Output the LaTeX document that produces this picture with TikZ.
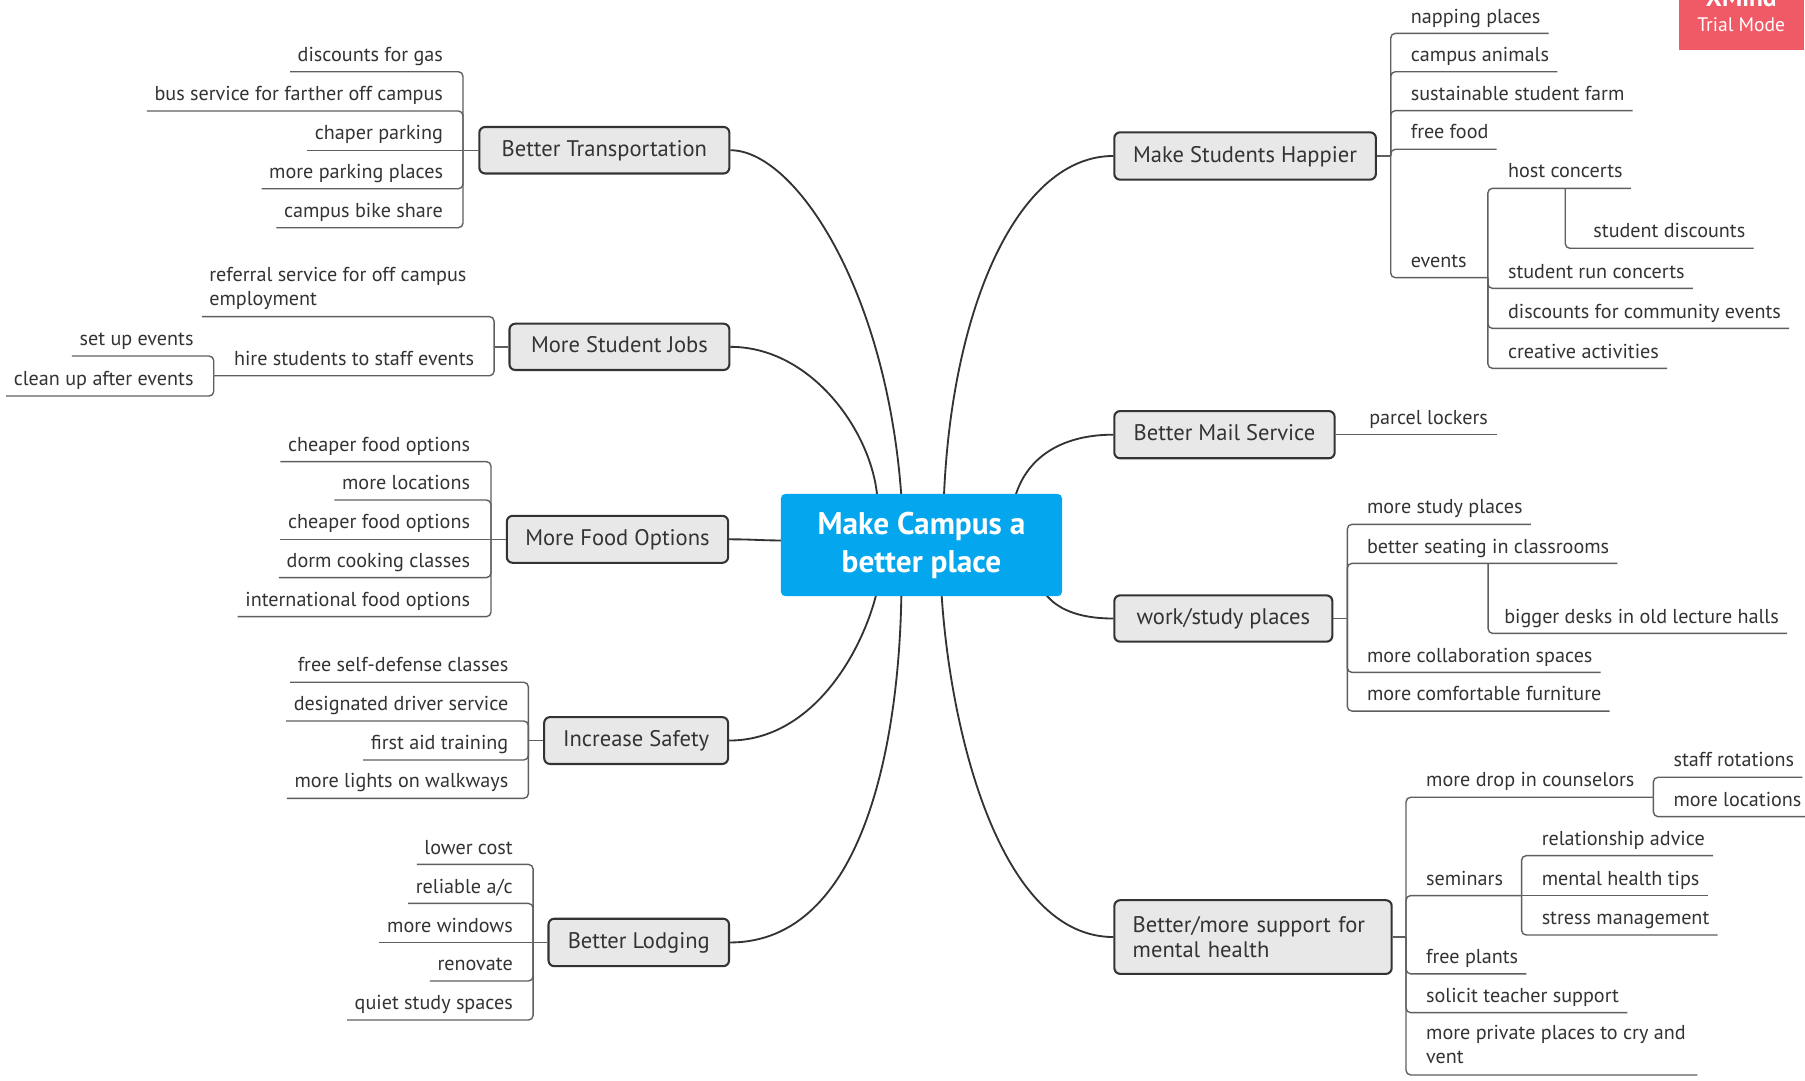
\documentclass[tikz,border=0pt]{standalone}
\usepackage{fontspec}
\setmainfont{PT Sans}
\usetikzlibrary{calc,backgrounds}
\definecolor{txt}{RGB}{51,51,51}
\definecolor{subline}{RGB}{95,95,95}
\definecolor{mline}{RGB}{51,51,51}
\definecolor{topicfill}{RGB}{232,232,232}
\definecolor{tborder}{RGB}{51,51,51}
\definecolor{cblue}{RGB}{4,166,238}
\definecolor{badge}{RGB}{240,90,102}
\newcommand\itemfont{\fontsize{17.5}{20.3}\selectfont}
\newcommand\topicfont{\fontsize{19.6}{22}\selectfont}
\newcommand\centerfont{\fontsize{27.2}{33}\selectfont\bfseries}
\newcommand\badgebig{\fontsize{22}{24}\selectfont\bfseries}
\newcommand\badgesmall{\fontsize{17}{18}\selectfont}
\newcommand\Lchild[5]{%
  \node[litem] (#1) at (#3,#4-9) {#5};
  \draw[sub] (#2) |- ($(#1.base west)+(-6.5,9)$);}
\newcommand\Rchild[5]{%
  \node[ritem] (#1) at (#3,#4-9) {#5};
  \draw[sub] (#2) |- ($(#1.base east)+(7,9)$);}
\begin{document}
\begin{tikzpicture}[x=1pt,y=-1pt,
  topic/.style={draw=tborder, line width=1.8pt, fill=topicfill, rounded corners=5pt, inner sep=0pt, text=txt, font=\topicfont},
  tline/.style={text height=14pt, text depth=3.5pt},
  centerbox/.style={fill=cblue, rounded corners=4pt, inner sep=0pt, text=white, font=\centerfont, align=center, minimum width=244.3pt, minimum height=88.9pt},
  litem/.style={anchor=base east, inner sep=0pt, text=txt, font=\itemfont},
  ritem/.style={anchor=base west, inner sep=0pt, text=txt, font=\itemfont},
  sub/.style={draw=subline, line width=1.2pt, rounded corners=4pt},
  mainline/.style={draw=mline, line width=1.6pt},
]
\useasboundingbox (0,0) rectangle (1568,939);
% central topic and main topics
\node[centerbox] (C) at (800.5,473.5) {Make Campus a\\better place};
\node[topic, tline, minimum width=217.2pt, minimum height=40.4pt] (T1) at (525,130.5) {Better Transportation};
\node[topic, tline, minimum width=191pt, minimum height=40.2pt] (T2) at (538.1,301.3) {More Student Jobs};
\node[topic, tline, minimum width=192.2pt, minimum height=40.8pt] (T3) at (536.4,468.5) {More Food Options};
\node[topic, tline, minimum width=159.7pt, minimum height=40.7pt] (T4) at (552.6,643.3) {Increase Safety};
\node[topic, tline, minimum width=156.8pt, minimum height=41.2pt] (T5) at (554.9,818.7) {Better Lodging};
\node[topic, tline, minimum width=227.2pt, minimum height=41.1pt] (R1) at (1081.6,135.5) {Make Students Happier};
\node[topic, tline, minimum width=191.4pt, minimum height=41pt] (R2) at (1063.7,377.6) {Better Mail Service};
\node[topic, tline, minimum width=189.4pt, minimum height=40.2pt] (R3) at (1062.7,537.3) {work/study places};
\node[topic, minimum width=240.9pt, minimum height=64pt, text width=209pt, align=left] (R4) at (1088.5,814) {Better/more support for\\mental health};

% Better Transportation
\coordinate (j1) at (402.2,130.5);
\Lchild{a1}{j1}{385}{62.3}{discounts for gas}
\Lchild{a2}{j1}{385}{96.4}{bus service for farther off campus}
\node[litem] (a3) at (385,130.5-9) {chaper parking};
\draw[sub] (T1.west) -- ($(a3.base west)+(-6.5,9)$);
\Lchild{a4}{j1}{385}{164}{more parking places}
\Lchild{a5}{j1}{385}{197.8}{campus bike share}

% More Student Jobs
\coordinate (j2) at (429.2,301.3);
\draw[sub] (T2.west) -- (j2);
\node[litem, anchor=base west] (b1) at (181.6,265) {\begin{tabular}[b]{@{}l@{}}referral service for off campus\\employment\end{tabular}};
\draw[sub] (j2) |- ($(b1.base west)+(-6.3,10)$);
\node[litem] (b2) at (412,326.4-9) {hire students to staff events};
\coordinate (hs) at (185.7,326.4);
\draw[sub] (j2) |- (hs);
\Lchild{b3}{hs}{168.3}{309.3}{set up events}
\Lchild{b4}{hs}{168.3}{344}{clean up after events}

% More Food Options
\coordinate (j3) at (426.5,468.5);
\Lchild{c1}{j3}{408.5}{401}{cheaper food options}
\Lchild{c2}{j3}{408.5}{434.3}{more locations}
\node[litem] (c3) at (408.5,468.5-9) {cheaper food options};
\draw[sub] (T3.west) -- ($(c3.base west)+(-6.5,9)$);
\Lchild{c4}{j3}{408.5}{501.8}{dorm cooking classes}
\Lchild{c5}{j3}{408.5}{535.7}{international food options}

% Increase Safety
\coordinate (j4) at (459,643.3);
\draw[sub] (T4.west) -- (j4);
\Lchild{s1}{j4}{441.7}{592.7}{free self-defense classes}
\Lchild{s2}{j4}{441.7}{626.3}{designated driver service}
\Lchild{s3}{j4}{441.7}{660.2}{first aid training}
\Lchild{s4}{j4}{441.7}{693.5}{more lights on walkways}

% Better Lodging
\coordinate (j5) at (463.1,818.7);
\Lchild{l1}{j5}{445.6}{750.9}{lower cost}
\Lchild{l2}{j5}{445.6}{784.8}{reliable a/c}
\node[litem] (l3) at (445.6,818.7-9) {more windows};
\draw[sub] (T5.west) -- ($(l3.base west)+(-6.5,9)$);
\Lchild{l4}{j5}{445.6}{852.2}{renovate}
\Lchild{l5}{j5}{445.6}{886.1}{quiet study spaces}

% Make Students Happier
\coordinate (k1) at (1208.1,135.5);
\draw[sub] (R1.east) -- (k1);
\Rchild{r1}{k1}{1225.4}{29}{napping places}
\Rchild{r2}{k1}{1225.4}{62.3}{campus animals}
\Rchild{r3}{k1}{1225.4}{96.1}{sustainable student farm}
\Rchild{r4}{k1}{1225.4}{129.7}{free food}
\node[ritem] (r5) at (1225.4,241.2-9) {events};
\coordinate (ev) at (1292.5,241.2);
\draw[sub] (k1) |- (ev);
\Rchild{r6}{ev}{1309.8}{163.6}{host concerts}
\coordinate (hc) at ($(r6.base)+(0,9)$);
\Rchild{r7}{hc}{1384}{215.7}{student discounts}
\Rchild{r8}{ev}{1309.8}{250.5}{student run concerts}
\Rchild{r9}{ev}{1309.8}{285.3}{discounts for community events}
\Rchild{r10}{ev}{1309.8}{320}{creative activities}

% Better Mail Service
\node[ritem] (p1) at (1189.3,377.6-9) {parcel lockers};
\draw[sub] (R2.east) -- ($(p1.base east)+(7.5,9)$);

% work/study places
\coordinate (k3) at (1170.4,537.3);
\draw[sub] (R3.east) -- (k3);
\Rchild{w1}{k3}{1187.3}{455.5}{more study places}
\Rchild{w2}{k3}{1187.3}{489.4}{better seating in classrooms}
\coordinate (bsj) at ($(w2.base)+(0,9)$);
\Rchild{w3}{bsj}{1306.6}{550.2}{bigger desks in old lecture halls}
\Rchild{w4}{k3}{1187.3}{584.1}{more collaboration spaces}
\Rchild{w5}{k3}{1187.3}{617.7}{more comfortable furniture}

% mental health
\coordinate (k4) at (1221.4,814);
\draw[sub] (R4.east) -- (k4);
\node[ritem] (m1) at (1238.7,692.6-9) {more drop in counselors};
\coordinate (dc) at (1436.3,692.6);
\draw[sub] (k4) |- (dc);
\Rchild{m2}{dc}{1453.6}{675.2}{staff rotations}
\Rchild{m3}{dc}{1453.6}{709.4}{more locations}
\node[ritem] (m4) at (1238.7,778-9) {seminars};
\coordinate (sm) at (1321.8,778);
\draw[sub] (k4) |- (sm);
\Rchild{m5}{sm}{1339.1}{743.3}{relationship advice}
\node[ritem] (m6) at (1339.1,778-9) {mental health tips};
\draw[sub] (sm) -- ($(m6.base east)+(7,9)$);
\Rchild{m7}{sm}{1339.1}{812.2}{stress management}
\Rchild{m8}{k4}{1238.7}{846}{free plants}
\Rchild{m9}{k4}{1238.7}{879.7}{solicit teacher support}
\node[ritem] (m10) at (1238.7,923.7) {\begin{tabular}[b]{@{}l@{}}more private places to cry and\\vent\end{tabular}};
\draw[sub] (k4) |- ($(m10.base east)+(10,10.1)$);

% trial badge
\node[fill=badge, minimum width=108.5pt, minimum height=50pt, anchor=south west, inner sep=0pt] (bd) at (1458.4,44) {};
\node[anchor=base, inner sep=0pt, text=white, font=\badgebig] (xm) at (1512.6,5.8) {XMind};
\node[anchor=base, inner sep=0pt, text=white, font=\badgesmall] (tm) at (1512.6,27.5) {Trial Mode};

% main curves
\begin{pgfonlayer}{background}
\fill[white] (0,0) rectangle (1568,939);
\coordinate (eT1) at (783,431);
\coordinate (eT2) at (762,431);
\coordinate (eT3) at (680,469.5);
\coordinate (eT4) at (761,517);
\coordinate (eT5) at (783,517);
\coordinate (eR1) at (820,431);
\coordinate (eR2) at (882,431);
\coordinate (eR3) at (909,517);
\coordinate (eR4) at (818,517);
\draw[mainline] (T1.east) .. controls (690,130.5) and (770,250) .. (eT1);
\draw[mainline] (T2.east) .. controls (705,301.3) and (757,375) .. (eT2);
\draw[mainline] (T3.east) .. controls (655,468.5) and (660,469.5) .. (eT3);
\draw[mainline] (T4.east) .. controls (705,643.3) and (748,568) .. (eT4);
\draw[mainline] (T5.east) .. controls (750,818.7) and (781,645) .. (eT5);
\draw[mainline] (R1.west) .. controls (885,135.5) and (827,265) .. (eR1);
\draw[mainline] (R2.west) .. controls (925,377.6) and (893,395) .. (eR2);
\draw[mainline] (R3.west) .. controls (935,537.3) and (918,528) .. (eR3);
\draw[mainline] (R4.west) .. controls (870,814) and (826,640) .. (eR4);
\end{pgfonlayer}
\end{tikzpicture}
\end{document}
